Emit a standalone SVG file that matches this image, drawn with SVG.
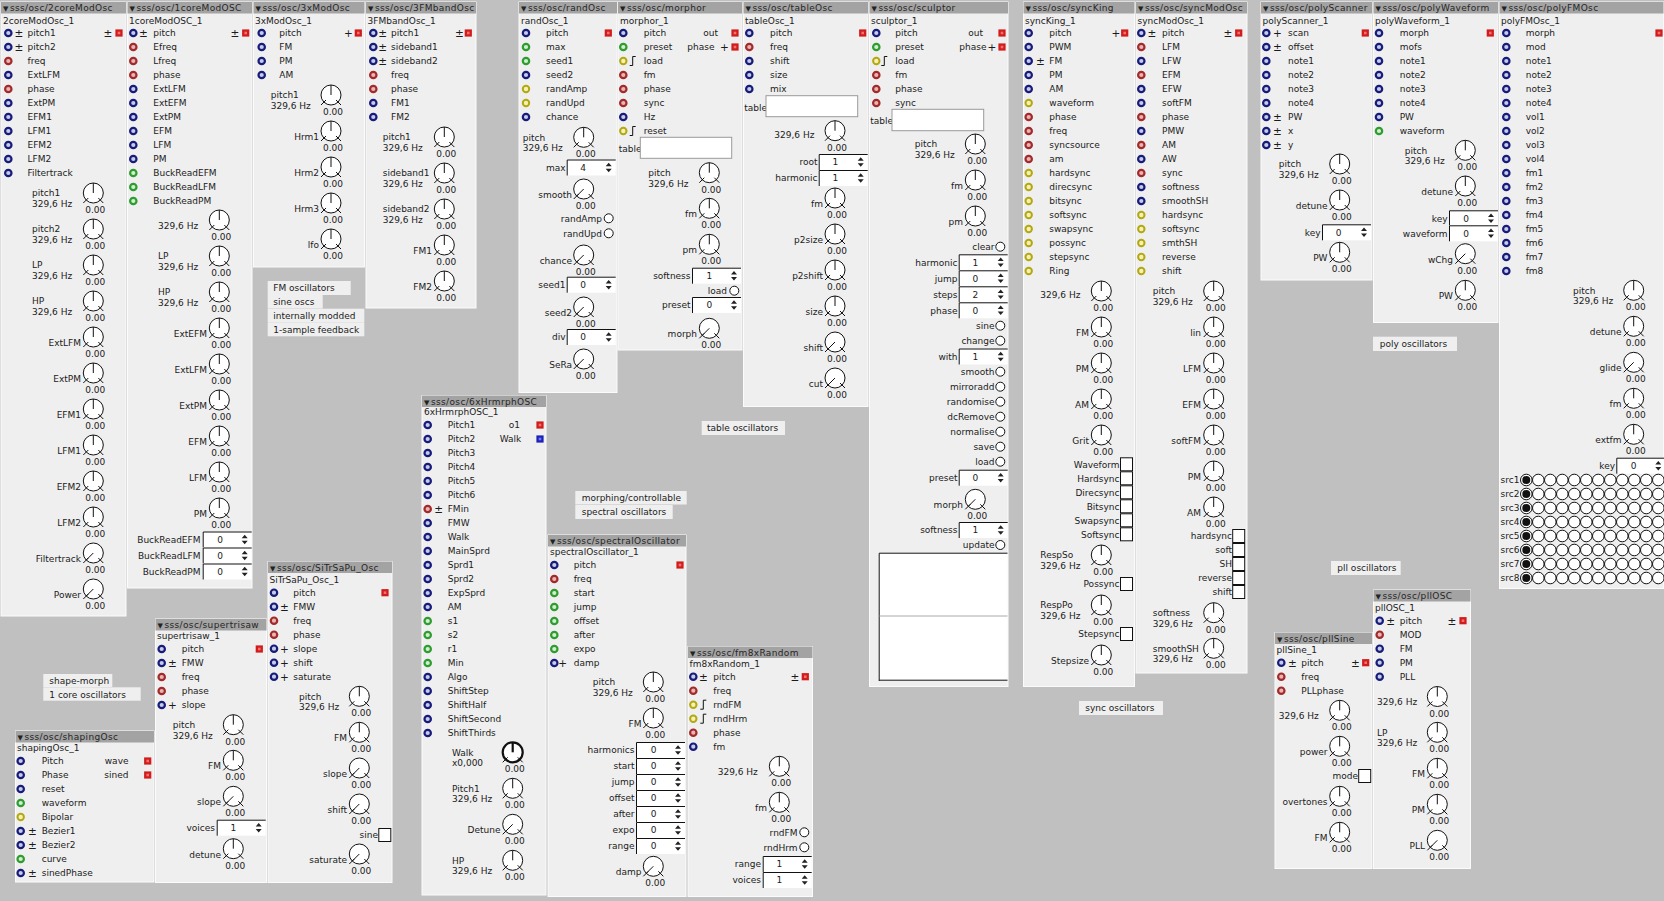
<svg xmlns="http://www.w3.org/2000/svg" xmlns:xlink="http://www.w3.org/1999/xlink" width="1664" height="901" viewBox="0 0 1664 901">
<defs>
<style>
text{font-family:"DejaVu Sans","Liberation Sans",sans-serif;font-size:9px;fill:#1b1b1b}
.r{text-anchor:end}.m{text-anchor:middle}
.t{font-size:9px;letter-spacing:.35px;fill:#262626}
.tri{font-size:7px;fill:#222}
.s{font-size:10.5px}
.pn{fill:#efefef;stroke:#fbfbfb;stroke-width:1}
.tb{fill:#a3a3a3}
.cm{fill:#efefef}
.ln{stroke:#111;fill:none;stroke-width:1}
</style>
<g id="pb"><circle r="3.2" fill="#c6cbe6" stroke="#171b7a" stroke-width="2.2"/></g>
<g id="pr"><circle r="3.2" fill="#e8b5b5" stroke="#a22a2a" stroke-width="2.2"/></g>
<g id="pg"><circle r="3.2" fill="#d2eed2" stroke="#2f9c2f" stroke-width="2.2"/></g>
<g id="py"><circle r="3.2" fill="#f4f1b4" stroke="#b3a812" stroke-width="2"/></g>
<g id="or"><rect x="-3.6" y="-3.6" width="7.2" height="7.2" fill="#d21c1c"/><rect x="-1.3" y="-1.3" width="2.6" height="2.6" fill="#f27070"/></g>
<g id="ob"><rect x="-3.6" y="-3.6" width="7.2" height="7.2" fill="#1c22b8"/><rect x="-1.3" y="-1.3" width="2.6" height="2.6" fill="#7078f0"/></g>
<g id="k"><circle r="10" fill="#fff" stroke="#111"/><path class="ln" d="M0,0V-10M-5,5L-10,10M5,5L10,10"/><text x="2" y="20" class="m">0.00</text></g>
<g id="kd"><circle r="10" fill="#fff" stroke="#111"/><path class="ln" d="M0,0L-7,7M-5,5L-10,10M5,5L10,10"/><text x="2" y="20" class="m">0.00</text></g>
<g id="kb"><circle r="10" fill="#fff" stroke="#111" stroke-width="2.2"/><path d="M0,0V-10" stroke="#111" stroke-width="2.2"/><path class="ln" d="M-5,5L-10,10M5,5L10,10"/><text x="2" y="20" class="m">0.00</text></g>
<g id="nb"><rect y="-8" width="49" height="16" fill="#fff"/><path class="ln" d="M0.5,8V-7.5H49"/><path d="M39,-1.2l3,-3.6l3,3.6zM39,1.2l3,3.6l3,-3.6z" fill="#222"/></g>
<g id="tg"><circle r="4.5" fill="#fff" stroke="#111"/></g>
<g id="cb"><rect x="-6" y="-6.5" width="12" height="13" fill="#fff" stroke="#111"/></g>
<g id="st"><path class="ln" d="M-3,4.5H0V-4.5H3"/></g>
<g id="mo"><circle r="5.8" fill="#fff" stroke="#111"/></g>
<g id="mf"><circle r="5.8" fill="#fff" stroke="#111"/><circle r="4" fill="#111"/></g>
</defs>
<rect width="1664" height="901" fill="#c0c0c0"/>
<g id="connectors"/>

<g id="n-2coreModOsc">
<rect class="pn" x="1" y="2" width="125" height="614"/><rect class="tb" x="1" y="2" width="125" height="11.5"/>
<text x="3" y="11" class="tri">▼</text><text x="10" y="11" class="t">sss/osc/2coreModOsc</text>
<text x="3" y="23.5">2coreModOsc_1</text>
<use href="#pb" x="8.3" y="33"/><text x="19" y="36.8" class="m s">±</text><text x="27.5" y="36.3">pitch1</text><text x="108" y="36.8" class="m s">±</text><use href="#or" x="119" y="33"/>
<use href="#pb" x="8.3" y="47"/><text x="19" y="50.8" class="m s">±</text><text x="27.5" y="50.3">pitch2</text>
<use href="#pr" x="8.3" y="61"/><text x="27.5" y="64.3">freq</text>
<use href="#pb" x="8.3" y="75"/><text x="27.5" y="78.3">ExtLFM</text>
<use href="#pr" x="8.3" y="89"/><text x="27.5" y="92.3">phase</text>
<use href="#pb" x="8.3" y="103"/><text x="27.5" y="106.3">ExtPM</text>
<use href="#pb" x="8.3" y="117"/><text x="27.5" y="120.3">EFM1</text>
<use href="#pb" x="8.3" y="131"/><text x="27.5" y="134.3">LFM1</text>
<use href="#pb" x="8.3" y="145"/><text x="27.5" y="148.3">EFM2</text>
<use href="#pb" x="8.3" y="159"/><text x="27.5" y="162.3">LFM2</text>
<use href="#pb" x="8.3" y="173"/><text x="27.5" y="176.3">Filtertrack</text>
<use href="#k" x="93.3" y="193"/><text x="32" y="196.3">pitch1</text><text x="32" y="207">329,6 Hz</text>
<use href="#k" x="93.3" y="229"/><text x="32" y="232.3">pitch2</text><text x="32" y="243">329,6 Hz</text>
<use href="#k" x="93.3" y="265"/><text x="32" y="268.3">LP</text><text x="32" y="279">329,6 Hz</text>
<use href="#k" x="93.3" y="301"/><text x="32" y="304.3">HP</text><text x="32" y="315">329,6 Hz</text>
<use href="#k" x="93.3" y="337"/><text x="81" y="346" class="r">ExtLFM</text>
<use href="#k" x="93.3" y="373"/><text x="81" y="382" class="r">ExtPM</text>
<use href="#k" x="93.3" y="409"/><text x="81" y="418" class="r">EFM1</text>
<use href="#k" x="93.3" y="445"/><text x="81" y="454" class="r">LFM1</text>
<use href="#k" x="93.3" y="481"/><text x="81" y="490" class="r">EFM2</text>
<use href="#k" x="93.3" y="517"/><text x="81" y="526" class="r">LFM2</text>
<use href="#kd" x="93.3" y="553"/><text x="81" y="562" class="r">Filtertrack</text>
<use href="#kd" x="93.3" y="589"/><text x="81" y="598" class="r">Power</text>
</g>

<g id="n-1coreModOSC">
<rect class="pn" x="127.5" y="2" width="124.5" height="586"/><rect class="tb" x="127.5" y="2" width="124.5" height="11.5"/>
<text x="129.5" y="11" class="tri">▼</text><text x="136.5" y="11" class="t">sss/osc/1coreModOSC</text>
<text x="129" y="23.5">1coreModOSC_1</text>
<use href="#pb" x="133.3" y="33"/><text x="143.3" y="36.8" class="m s">±</text><text x="153.3" y="36.3">pitch</text><text x="235" y="36.8" class="m s">±</text><use href="#or" x="245.7" y="33"/>
<use href="#pr" x="133.3" y="47"/><text x="153.3" y="50.3">Efreq</text>
<use href="#pr" x="133.3" y="61"/><text x="153.3" y="64.3">Lfreq</text>
<use href="#pr" x="133.3" y="75"/><text x="153.3" y="78.3">phase</text>
<use href="#pb" x="133.3" y="89"/><text x="153.3" y="92.3">ExtLFM</text>
<use href="#pb" x="133.3" y="103"/><text x="153.3" y="106.3">ExtEFM</text>
<use href="#pb" x="133.3" y="117"/><text x="153.3" y="120.3">ExtPM</text>
<use href="#pb" x="133.3" y="131"/><text x="153.3" y="134.3">EFM</text>
<use href="#pb" x="133.3" y="145"/><text x="153.3" y="148.3">LFM</text>
<use href="#pb" x="133.3" y="159"/><text x="153.3" y="162.3">PM</text>
<use href="#pg" x="133.3" y="173"/><text x="153.3" y="176.3">BuckReadEFM</text>
<use href="#pg" x="133.3" y="187"/><text x="153.3" y="190.3">BuckReadLFM</text>
<use href="#pg" x="133.3" y="201"/><text x="153.3" y="204.3">BuckReadPM</text>
<use href="#k" x="219.3" y="220"/><text x="158" y="229">329,6 Hz</text>
<use href="#k" x="219.3" y="256"/><text x="158" y="259.3">LP</text><text x="158" y="270">329,6 Hz</text>
<use href="#k" x="219.3" y="292"/><text x="158" y="295.3">HP</text><text x="158" y="306">329,6 Hz</text>
<use href="#k" x="219.3" y="328"/><text x="207" y="337" class="r">ExtEFM</text>
<use href="#k" x="219.3" y="364"/><text x="207" y="373" class="r">ExtLFM</text>
<use href="#k" x="219.3" y="400"/><text x="207" y="409" class="r">ExtPM</text>
<use href="#k" x="219.3" y="436"/><text x="207" y="445" class="r">EFM</text>
<use href="#k" x="219.3" y="472"/><text x="207" y="481" class="r">LFM</text>
<use href="#k" x="219.3" y="508"/><text x="207" y="517" class="r">PM</text>
<use href="#nb" x="202.7" y="539.5"/><text x="200.5" y="542.8" class="r">BuckReadEFM</text><text x="220" y="542.8" class="m">0</text>
<use href="#nb" x="202.7" y="555.5"/><text x="200.5" y="558.8" class="r">BuckReadLFM</text><text x="220" y="558.8" class="m">0</text>
<use href="#nb" x="202.7" y="571.5"/><text x="200.5" y="574.8" class="r">BuckReadPM</text><text x="220" y="574.8" class="m">0</text>
</g>

<g id="n-3xModOsc">
<rect class="pn" x="253.5" y="2" width="111" height="265"/><rect class="tb" x="253.5" y="2" width="111" height="11.5"/>
<text x="255.5" y="11" class="tri">▼</text><text x="262.5" y="11" class="t">sss/osc/3xModOsc</text>
<text x="255" y="23.5">3xModOsc_1</text>
<use href="#pb" x="261.7" y="33"/><text x="279.3" y="36.3">pitch</text><text x="348.3" y="36.8" class="m s">+</text><use href="#or" x="358.3" y="33"/>
<use href="#pb" x="261.7" y="47"/><text x="279.3" y="50.3">FM</text>
<use href="#pb" x="261.7" y="61"/><text x="279.3" y="64.3">PM</text>
<use href="#pb" x="261.7" y="75"/><text x="279.3" y="78.3">AM</text>
<use href="#k" x="331" y="95"/><text x="270.7" y="98.3">pitch1</text><text x="270.7" y="109">329,6 Hz</text>
<use href="#k" x="331" y="131"/><text x="319" y="140" class="r">Hrm1</text>
<use href="#k" x="331" y="167"/><text x="319" y="176" class="r">Hrm2</text>
<use href="#k" x="331" y="203"/><text x="319" y="212" class="r">Hrm3</text>
<use href="#k" x="331" y="239"/><text x="319" y="248" class="r">lfo</text>
</g>

<g id="n-3FMbandOsc">
<rect class="pn" x="366" y="2" width="110" height="306"/><rect class="tb" x="366" y="2" width="110" height="11.5"/>
<text x="368" y="11" class="tri">▼</text><text x="375" y="11" class="t">sss/osc/3FMbandOsc</text>
<text x="367.5" y="23.5">3FMbandOsc_1</text>
<use href="#pb" x="373.3" y="33"/><text x="382.7" y="36.8" class="m s">±</text><text x="391" y="36.3">pitch1</text><text x="459.3" y="36.8" class="m s">±</text><use href="#or" x="468.3" y="33"/>
<use href="#pb" x="373.3" y="47"/><text x="382.7" y="50.8" class="m s">±</text><text x="391" y="50.3">sideband1</text>
<use href="#pb" x="373.3" y="61"/><text x="382.7" y="64.8" class="m s">±</text><text x="391" y="64.3">sideband2</text>
<use href="#pr" x="373.3" y="75"/><text x="391" y="78.3">freq</text>
<use href="#pr" x="373.3" y="89"/><text x="391" y="92.3">phase</text>
<use href="#pb" x="373.3" y="103"/><text x="391" y="106.3">FM1</text>
<use href="#pb" x="373.3" y="117"/><text x="391" y="120.3">FM2</text>
<use href="#k" x="444.3" y="137"/><text x="382.7" y="140.3">pitch1</text><text x="382.7" y="151">329,6 Hz</text>
<use href="#k" x="444.3" y="173"/><text x="382.7" y="176.3">sideband1</text><text x="382.7" y="187">329,6 Hz</text>
<use href="#k" x="444.3" y="209"/><text x="382.7" y="212.3">sideband2</text><text x="382.7" y="223">329,6 Hz</text>
<use href="#k" x="444.3" y="245"/><text x="432" y="254" class="r">FM1</text>
<use href="#k" x="444.3" y="281"/><text x="432" y="290" class="r">FM2</text>
</g>

<g id="n-randOsc">
<rect class="pn" x="519" y="2" width="98" height="390.5"/><rect class="tb" x="519" y="2" width="98" height="11.5"/>
<text x="521" y="11" class="tri">▼</text><text x="528" y="11" class="t">sss/osc/randOsc</text>
<text x="521" y="23.5">randOsc_1</text>
<use href="#pb" x="526" y="33"/><text x="546" y="36.3">pitch</text><use href="#or" x="608.3" y="33"/>
<use href="#pg" x="526" y="47"/><text x="546" y="50.3">max</text>
<use href="#pg" x="526" y="61"/><text x="546" y="64.3">seed1</text>
<use href="#pb" x="526" y="75"/><text x="546" y="78.3">seed2</text>
<use href="#py" x="526" y="89"/><text x="546" y="92.3">randAmp</text>
<use href="#py" x="526" y="103"/><text x="546" y="106.3">randUpd</text>
<use href="#pb" x="526" y="117"/><text x="546" y="120.3">chance</text>
<use href="#k" x="583.7" y="137.3"/><text x="522.7" y="140.6">pitch</text><text x="522.7" y="151.3">329,6 Hz</text>
<use href="#nb" x="566.7" y="167.5"/><text x="565.5" y="170.8" class="r">max</text><text x="583" y="170.8" class="m">4</text>
<use href="#kd" x="583.7" y="189"/><text x="572" y="198" class="r">smooth</text>
<use href="#tg" x="608.7" y="218.3"/><text x="602" y="221.6" class="r">randAmp</text>
<use href="#tg" x="608.7" y="233.3"/><text x="602" y="236.6" class="r">randUpd</text>
<use href="#kd" x="583.7" y="255"/><text x="572" y="264" class="r">chance</text>
<use href="#nb" x="566.7" y="284.7"/><text x="565.5" y="288" class="r">seed1</text><text x="583" y="288" class="m">0</text>
<use href="#kd" x="583.7" y="307"/><text x="572" y="316" class="r">seed2</text>
<use href="#nb" x="566.7" y="337"/><text x="565.5" y="340.3" class="r">div</text><text x="583" y="340.3" class="m">0</text>
<use href="#kd" x="583.7" y="359"/><text x="572" y="368" class="r">SeRa</text>
</g>

<g id="n-morphor">
<rect class="pn" x="618" y="2" width="124" height="348"/><rect class="tb" x="618" y="2" width="124" height="11.5"/>
<text x="620" y="11" class="tri">▼</text><text x="627" y="11" class="t">sss/osc/morphor</text>
<text x="620" y="23.5">morphor_1</text>
<use href="#pb" x="623.3" y="33"/><text x="643.7" y="36.3">pitch</text><text x="718" y="36.3" class="r">out</text><use href="#or" x="735" y="33"/>
<use href="#pg" x="623.3" y="47"/><text x="643.7" y="50.3">preset</text><text x="714.5" y="50.3" class="r">phase</text><text x="724.3" y="50.8" class="m s">+</text><use href="#or" x="735" y="47"/>
<use href="#py" x="623.3" y="61"/><use href="#st" x="632.7" y="61"/><text x="643.7" y="64.3">load</text>
<use href="#pr" x="623.3" y="75"/><text x="643.7" y="78.3">fm</text>
<use href="#pr" x="623.3" y="89"/><text x="643.7" y="92.3">phase</text>
<use href="#pr" x="623.3" y="103"/><text x="643.7" y="106.3">sync</text>
<use href="#pb" x="623.3" y="117"/><text x="643.7" y="120.3">Hz</text>
<use href="#py" x="623.3" y="131"/><use href="#st" x="632.7" y="131"/><text x="643.7" y="134.3">reset</text>
<text x="618.7" y="152.3">table</text><rect x="640.3" y="137.3" width="91.4" height="21" fill="#fff" stroke="#9a9a9a"/>
<use href="#k" x="709.3" y="172.7"/><text x="648.3" y="176">pitch</text><text x="648.3" y="186.7">329,6 Hz</text>
<use href="#k" x="709.3" y="208.3"/><text x="697" y="217.3" class="r">fm</text>
<use href="#k" x="709.3" y="244.3"/><text x="697" y="253.3" class="r">pm</text>
<use href="#nb" x="692" y="275.7"/><text x="690.5" y="279" class="r">softness</text><text x="709.3" y="279" class="m">1</text>
<use href="#tg" x="734.3" y="290.7"/><text x="727" y="294" class="r">load</text>
<use href="#nb" x="692" y="305"/><text x="690.5" y="308.3" class="r">preset</text><text x="709.3" y="308.3" class="m">0</text>
<use href="#kd" x="709.3" y="328.3"/><text x="697" y="337.3" class="r">morph</text>
</g>

<g id="n-tableOsc">
<rect class="pn" x="743.5" y="2" width="124.5" height="404.5"/><rect class="tb" x="743.5" y="2" width="124.5" height="11.5"/>
<text x="745.5" y="11" class="tri">▼</text><text x="752.5" y="11" class="t">sss/osc/tableOsc</text>
<text x="745" y="23.5">tableOsc_1</text>
<use href="#pb" x="749.3" y="33"/><text x="770" y="36.3">pitch</text><use href="#or" x="862.7" y="33"/>
<use href="#pr" x="749.3" y="47"/><text x="770" y="50.3">freq</text>
<use href="#pb" x="749.3" y="61"/><text x="770" y="64.3">shift</text>
<use href="#pb" x="749.3" y="75"/><text x="770" y="78.3">size</text>
<use href="#pb" x="749.3" y="89"/><text x="770" y="92.3">mix</text>
<text x="744.3" y="110.5">table</text><rect x="766" y="95.7" width="91.7" height="21" fill="#fff" stroke="#9a9a9a"/>
<use href="#k" x="835" y="130.7"/><text x="774.3" y="138.3">329,6 Hz</text>
<use href="#nb" x="818.7" y="162"/><text x="817.5" y="165.3" class="r">root</text><text x="835.3" y="165.3" class="m">1</text>
<use href="#nb" x="818.7" y="178"/><text x="817.5" y="181.3" class="r">harmonic</text><text x="835.3" y="181.3" class="m">1</text>
<use href="#k" x="835" y="198"/><text x="823" y="207" class="r">fm</text>
<use href="#k" x="835" y="234"/><text x="823" y="243" class="r">p2size</text>
<use href="#k" x="835" y="270"/><text x="823" y="279" class="r">p2shift</text>
<use href="#k" x="835" y="306"/><text x="823" y="315" class="r">size</text>
<use href="#kd" x="835" y="342"/><text x="823" y="351" class="r">shift</text>
<use href="#kd" x="835" y="378"/><text x="823" y="387" class="r">cut</text>
</g>

<g id="n-sculptor">
<rect class="pn" x="869.5" y="2" width="138.5" height="684.5"/><rect class="tb" x="869.5" y="2" width="138.5" height="11.5"/>
<text x="871.5" y="11" class="tri">▼</text><text x="878.5" y="11" class="t">sss/osc/sculptor</text>
<text x="871" y="23.5">sculptor_1</text>
<use href="#pb" x="876.3" y="33"/><text x="895.3" y="36.3">pitch</text><text x="983" y="36.3" class="r">out</text><use href="#or" x="1002" y="33"/>
<use href="#pg" x="876.3" y="47"/><text x="895.3" y="50.3">preset</text><text x="986.5" y="50.3" class="r">phase</text><text x="992" y="50.8" class="m s">+</text><use href="#or" x="1002" y="47"/>
<use href="#py" x="876.3" y="61"/><use href="#st" x="884.3" y="61"/><text x="895.3" y="64.3">load</text>
<use href="#pr" x="876.3" y="75"/><text x="895.3" y="78.3">fm</text>
<use href="#pr" x="876.3" y="89"/><text x="895.3" y="92.3">phase</text>
<use href="#pr" x="876.3" y="103"/><text x="895.3" y="106.3">sync</text>
<text x="870.3" y="124">table</text><rect x="892" y="109.3" width="91.7" height="21.4" fill="#fff" stroke="#9a9a9a"/>
<use href="#k" x="975.3" y="144"/><text x="914.7" y="147.3">pitch</text><text x="914.7" y="158">329,6 Hz</text>
<use href="#k" x="975.3" y="180"/><text x="963" y="189" class="r">fm</text>
<use href="#k" x="975.3" y="216"/><text x="963" y="225" class="r">pm</text>
<use href="#tg" x="1000.3" y="246.7"/><text x="994.5" y="250" class="r">clear</text>
<use href="#nb" x="958.7" y="262.3"/><text x="957.5" y="265.6" class="r">harmonic</text><text x="975.3" y="265.6" class="m">1</text>
<use href="#nb" x="958.7" y="278.3"/><text x="957.5" y="281.6" class="r">jump</text><text x="975.3" y="281.6" class="m">0</text>
<use href="#nb" x="958.7" y="294.3"/><text x="957.5" y="297.6" class="r">steps</text><text x="975.3" y="297.6" class="m">2</text>
<use href="#nb" x="958.7" y="310.3"/><text x="957.5" y="313.6" class="r">phase</text><text x="975.3" y="313.6" class="m">0</text>
<use href="#tg" x="1000.3" y="325.7"/><text x="994.5" y="329" class="r">sine</text>
<use href="#tg" x="1000.3" y="340.7"/><text x="994.5" y="344" class="r">change</text>
<use href="#nb" x="958.7" y="356.5"/><text x="957.5" y="359.8" class="r">with</text><text x="975.3" y="359.8" class="m">1</text>
<use href="#tg" x="1000.3" y="371.7"/><text x="994.5" y="375" class="r">smooth</text>
<use href="#tg" x="1000.3" y="386.7"/><text x="994.5" y="390" class="r">mirroradd</text>
<use href="#tg" x="1000.3" y="401.7"/><text x="994.5" y="405" class="r">randomise</text>
<use href="#tg" x="1000.3" y="416.7"/><text x="994.5" y="420" class="r">dcRemove</text>
<use href="#tg" x="1000.3" y="431.7"/><text x="994.5" y="435" class="r">normalise</text>
<use href="#tg" x="1000.3" y="446.7"/><text x="994.5" y="450" class="r">save</text>
<use href="#tg" x="1000.3" y="461.7"/><text x="994.5" y="465" class="r">load</text>
<use href="#nb" x="958.7" y="477.7"/><text x="957.5" y="481" class="r">preset</text><text x="975.3" y="481" class="m">0</text>
<use href="#kd" x="975.3" y="499.3"/><text x="963" y="508.3" class="r">morph</text>
<use href="#nb" x="958.7" y="530"/><text x="957.5" y="533.3" class="r">softness</text><text x="975.3" y="533.3" class="m">1</text>
<use href="#tg" x="1000.3" y="545"/><text x="994.5" y="548.3" class="r">update</text>
<rect x="878.7" y="552.7" width="129" height="128" fill="#fff"/>
<path d="M879.2,681V553.2H1007.5" class="ln" stroke-width="1.2"/>
<path d="M879.2,680.2H1007.5" class="ln" stroke-width="1.2"/>
<path d="M879.5,616H1007.5" stroke="#aaa" stroke-width="1" fill="none"/>
</g>

<g id="n-syncKing">
<rect class="pn" x="1023.5" y="2" width="111" height="684.5"/><rect class="tb" x="1023.5" y="2" width="111" height="11.5"/>
<text x="1025.5" y="11" class="tri">▼</text><text x="1032.5" y="11" class="t">sss/osc/syncKing</text>
<text x="1025" y="23.5">syncKing_1</text>
<use href="#pb" x="1028.7" y="33"/><text x="1049.3" y="36.3">pitch</text><text x="1116" y="36.8" class="m s">+</text><use href="#or" x="1124.7" y="33"/>
<use href="#pb" x="1028.7" y="47"/><text x="1049.3" y="50.3">PWM</text>
<use href="#pb" x="1028.7" y="61"/><text x="1040.3" y="64.8" class="m s">±</text><text x="1049.3" y="64.3">FM</text>
<use href="#pb" x="1028.7" y="75"/><text x="1049.3" y="78.3">PM</text>
<use href="#pb" x="1028.7" y="89"/><text x="1049.3" y="92.3">AM</text>
<use href="#py" x="1028.7" y="103"/><text x="1049.3" y="106.3">waveform</text>
<use href="#pr" x="1028.7" y="117"/><text x="1049.3" y="120.3">phase</text>
<use href="#pr" x="1028.7" y="131"/><text x="1049.3" y="134.3">freq</text>
<use href="#pr" x="1028.7" y="145"/><text x="1049.3" y="148.3">syncsource</text>
<use href="#pr" x="1028.7" y="159"/><text x="1049.3" y="162.3">am</text>
<use href="#py" x="1028.7" y="173"/><text x="1049.3" y="176.3">hardsync</text>
<use href="#py" x="1028.7" y="187"/><text x="1049.3" y="190.3">direcsync</text>
<use href="#py" x="1028.7" y="201"/><text x="1049.3" y="204.3">bitsync</text>
<use href="#py" x="1028.7" y="215"/><text x="1049.3" y="218.3">softsync</text>
<use href="#py" x="1028.7" y="229"/><text x="1049.3" y="232.3">swapsync</text>
<use href="#py" x="1028.7" y="243"/><text x="1049.3" y="246.3">possync</text>
<use href="#py" x="1028.7" y="257"/><text x="1049.3" y="260.3">stepsync</text>
<use href="#py" x="1028.7" y="271"/><text x="1049.3" y="274.3">Ring</text>
<use href="#k" x="1101.3" y="291"/><text x="1040.3" y="298.3">329,6 Hz</text>
<use href="#k" x="1101.3" y="327"/><text x="1089" y="336" class="r">FM</text>
<use href="#k" x="1101.3" y="363"/><text x="1089" y="372" class="r">PM</text>
<use href="#k" x="1101.3" y="399"/><text x="1089" y="408" class="r">AM</text>
<use href="#k" x="1101.3" y="435"/><text x="1089" y="444" class="r">Grit</text>
<use href="#cb" x="1126.5" y="464.3"/><text x="1119.5" y="467.6" class="r">Waveform</text>
<use href="#cb" x="1126.5" y="478.3"/><text x="1119.5" y="481.6" class="r">Hardsync</text>
<use href="#cb" x="1126.5" y="492.3"/><text x="1119.5" y="495.6" class="r">Direcsync</text>
<use href="#cb" x="1126.5" y="506.3"/><text x="1119.5" y="509.6" class="r">Bitsync</text>
<use href="#cb" x="1126.5" y="520.3"/><text x="1119.5" y="523.6" class="r">Swapsync</text>
<use href="#cb" x="1126.5" y="534.3"/><text x="1119.5" y="537.6" class="r">Softsync</text>
<use href="#k" x="1101.3" y="555"/><text x="1040.3" y="558.3">RespSo</text><text x="1040.3" y="569">329,6 Hz</text>
<use href="#cb" x="1126.5" y="584"/><text x="1119.5" y="587.3" class="r">Possync</text>
<use href="#k" x="1101.3" y="605"/><text x="1040.3" y="608.3">RespPo</text><text x="1040.3" y="619">329,6 Hz</text>
<use href="#cb" x="1126.5" y="634"/><text x="1119.5" y="637.3" class="r">Stepsync</text>
<use href="#k" x="1101.3" y="655"/><text x="1089" y="664" class="r">Stepsize</text>
</g>

<g id="n-syncModOsc">
<rect class="pn" x="1136" y="2" width="111" height="671"/><rect class="tb" x="1136" y="2" width="111" height="11.5"/>
<text x="1138" y="11" class="tri">▼</text><text x="1145" y="11" class="t">sss/osc/syncModOsc</text>
<text x="1137.5" y="23.5">syncModOsc_1</text>
<use href="#pb" x="1141.3" y="33"/><text x="1152" y="36.8" class="m s">±</text><text x="1162" y="36.3">pitch</text><text x="1228" y="36.8" class="m s">±</text><use href="#or" x="1238.7" y="33"/>
<use href="#pr" x="1141.3" y="47"/><text x="1162" y="50.3">LFM</text>
<use href="#pb" x="1141.3" y="61"/><text x="1162" y="64.3">LFW</text>
<use href="#pr" x="1141.3" y="75"/><text x="1162" y="78.3">EFM</text>
<use href="#pb" x="1141.3" y="89"/><text x="1162" y="92.3">EFW</text>
<use href="#pb" x="1141.3" y="103"/><text x="1162" y="106.3">softFM</text>
<use href="#pr" x="1141.3" y="117"/><text x="1162" y="120.3">phase</text>
<use href="#pb" x="1141.3" y="131"/><text x="1162" y="134.3">PMW</text>
<use href="#pr" x="1141.3" y="145"/><text x="1162" y="148.3">AM</text>
<use href="#pb" x="1141.3" y="159"/><text x="1162" y="162.3">AW</text>
<use href="#pr" x="1141.3" y="173"/><text x="1162" y="176.3">sync</text>
<use href="#pb" x="1141.3" y="187"/><text x="1162" y="190.3">softness</text>
<use href="#pb" x="1141.3" y="201"/><text x="1162" y="204.3">smoothSH</text>
<use href="#py" x="1141.3" y="215"/><text x="1162" y="218.3">hardsync</text>
<use href="#py" x="1141.3" y="229"/><text x="1162" y="232.3">softsync</text>
<use href="#py" x="1141.3" y="243"/><text x="1162" y="246.3">smthSH</text>
<use href="#py" x="1141.3" y="257"/><text x="1162" y="260.3">reverse</text>
<use href="#py" x="1141.3" y="271"/><text x="1162" y="274.3">shift</text>
<use href="#k" x="1213.7" y="291"/><text x="1152.7" y="294.3">pitch</text><text x="1152.7" y="305">329,6 Hz</text>
<use href="#k" x="1213.7" y="327"/><text x="1201" y="336" class="r">lin</text>
<use href="#k" x="1213.7" y="363"/><text x="1201" y="372" class="r">LFM</text>
<use href="#k" x="1213.7" y="399"/><text x="1201" y="408" class="r">EFM</text>
<use href="#k" x="1213.7" y="435"/><text x="1201" y="444" class="r">softFM</text>
<use href="#k" x="1213.7" y="471"/><text x="1201" y="480" class="r">PM</text>
<use href="#k" x="1213.7" y="507"/><text x="1201" y="516" class="r">AM</text>
<use href="#cb" x="1238.7" y="536"/><text x="1232" y="539.3" class="r">hardsync</text>
<use href="#cb" x="1238.7" y="550"/><text x="1232" y="553.3" class="r">soft</text>
<use href="#cb" x="1238.7" y="564"/><text x="1232" y="567.3" class="r">SH</text>
<use href="#cb" x="1238.7" y="578"/><text x="1232" y="581.3" class="r">reverse</text>
<use href="#cb" x="1238.7" y="592"/><text x="1232" y="595.3" class="r">shift</text>
<use href="#k" x="1213.7" y="612.7"/><text x="1152.7" y="616">softness</text><text x="1152.7" y="626.7">329,6 Hz</text>
<use href="#k" x="1213.7" y="648.3"/><text x="1152.7" y="651.6">smoothSH</text><text x="1152.7" y="662.3">329,6 Hz</text>
</g>

<g id="n-polyScanner">
<rect class="pn" x="1261" y="2" width="111" height="278"/><rect class="tb" x="1261" y="2" width="111" height="11.5"/>
<text x="1263" y="11" class="tri">▼</text><text x="1270" y="11" class="t">sss/osc/polyScanner</text>
<text x="1262.5" y="23.5">polyScanner_1</text>
<use href="#pb" x="1266.3" y="33"/><text x="1277.3" y="36.8" class="m s">+</text><text x="1288" y="36.3">scan</text><use href="#or" x="1365.3" y="33"/>
<use href="#pb" x="1266.3" y="47"/><text x="1277.3" y="50.8" class="m s">±</text><text x="1288" y="50.3">offset</text>
<use href="#pb" x="1266.3" y="61"/><text x="1288" y="64.3">note1</text>
<use href="#pb" x="1266.3" y="75"/><text x="1288" y="78.3">note2</text>
<use href="#pb" x="1266.3" y="89"/><text x="1288" y="92.3">note3</text>
<use href="#pb" x="1266.3" y="103"/><text x="1288" y="106.3">note4</text>
<use href="#pb" x="1266.3" y="117"/><text x="1277.3" y="120.8" class="m s">±</text><text x="1288" y="120.3">PW</text>
<use href="#pb" x="1266.3" y="131"/><text x="1277.3" y="134.8" class="m s">±</text><text x="1288" y="134.3">x</text>
<use href="#pb" x="1266.3" y="145"/><text x="1277.3" y="148.8" class="m s">±</text><text x="1288" y="148.3">y</text>
<use href="#k" x="1339.7" y="164"/><text x="1278.7" y="167.3">pitch</text><text x="1278.7" y="178">329,6 Hz</text>
<use href="#k" x="1339.7" y="200"/><text x="1327.5" y="209" class="r">detune</text>
<use href="#nb" x="1322" y="232.3"/><text x="1320.5" y="235.6" class="r">key</text><text x="1338.5" y="235.6" class="m">0</text>
<use href="#k" x="1339.7" y="252.3"/><text x="1327.5" y="261.3" class="r">PW</text>
</g>

<g id="n-polyWaveform">
<rect class="pn" x="1373.5" y="2" width="124.5" height="320.5"/><rect class="tb" x="1373.5" y="2" width="124.5" height="11.5"/>
<text x="1375.5" y="11" class="tri">▼</text><text x="1382.5" y="11" class="t">sss/osc/polyWaveform</text>
<text x="1375" y="23.5">polyWaveform_1</text>
<use href="#pb" x="1379" y="33"/><text x="1399.7" y="36.3">morph</text><use href="#or" x="1490.3" y="33"/>
<use href="#pb" x="1379" y="47"/><text x="1399.7" y="50.3">mofs</text>
<use href="#pb" x="1379" y="61"/><text x="1399.7" y="64.3">note1</text>
<use href="#pb" x="1379" y="75"/><text x="1399.7" y="78.3">note2</text>
<use href="#pb" x="1379" y="89"/><text x="1399.7" y="92.3">note3</text>
<use href="#pb" x="1379" y="103"/><text x="1399.7" y="106.3">note4</text>
<use href="#pb" x="1379" y="117"/><text x="1399.7" y="120.3">PW</text>
<use href="#pg" x="1379" y="131"/><text x="1399.7" y="134.3">waveform</text>
<use href="#k" x="1465.3" y="150.3"/><text x="1404.7" y="153.6">pitch</text><text x="1404.7" y="164.3">329,6 Hz</text>
<use href="#k" x="1465.3" y="186"/><text x="1453" y="195" class="r">detune</text>
<use href="#nb" x="1449" y="218.3"/><text x="1447.5" y="221.6" class="r">key</text><text x="1466" y="221.6" class="m">0</text>
<use href="#nb" x="1449" y="233.3"/><text x="1447.5" y="236.6" class="r">waveform</text><text x="1466" y="236.6" class="m">0</text>
<use href="#kd" x="1465.3" y="253.7"/><text x="1453" y="262.7" class="r">wChg</text>
<use href="#k" x="1465.3" y="290.3"/><text x="1453" y="299.3" class="r">PW</text>
</g>

<g id="n-polyFMOsc">
<rect class="pn" x="1499.5" y="2" width="164" height="586.5"/><rect class="tb" x="1499.5" y="2" width="164" height="11.5"/>
<text x="1501.5" y="11" class="tri">▼</text><text x="1508.5" y="11" class="t">sss/osc/polyFMOsc</text>
<text x="1501" y="23.5">polyFMOsc_1</text>
<use href="#pb" x="1506.3" y="33"/><text x="1525.7" y="36.3">morph</text><use href="#or" x="1659" y="33"/>
<use href="#pb" x="1506.3" y="47"/><text x="1525.7" y="50.3">mod</text>
<use href="#pb" x="1506.3" y="61"/><text x="1525.7" y="64.3">note1</text>
<use href="#pb" x="1506.3" y="75"/><text x="1525.7" y="78.3">note2</text>
<use href="#pb" x="1506.3" y="89"/><text x="1525.7" y="92.3">note3</text>
<use href="#pb" x="1506.3" y="103"/><text x="1525.7" y="106.3">note4</text>
<use href="#pb" x="1506.3" y="117"/><text x="1525.7" y="120.3">vol1</text>
<use href="#pb" x="1506.3" y="131"/><text x="1525.7" y="134.3">vol2</text>
<use href="#pb" x="1506.3" y="145"/><text x="1525.7" y="148.3">vol3</text>
<use href="#pb" x="1506.3" y="159"/><text x="1525.7" y="162.3">vol4</text>
<use href="#pb" x="1506.3" y="173"/><text x="1525.7" y="176.3">fm1</text>
<use href="#pb" x="1506.3" y="187"/><text x="1525.7" y="190.3">fm2</text>
<use href="#pb" x="1506.3" y="201"/><text x="1525.7" y="204.3">fm3</text>
<use href="#pb" x="1506.3" y="215"/><text x="1525.7" y="218.3">fm4</text>
<use href="#pb" x="1506.3" y="229"/><text x="1525.7" y="232.3">fm5</text>
<use href="#pb" x="1506.3" y="243"/><text x="1525.7" y="246.3">fm6</text>
<use href="#pb" x="1506.3" y="257"/><text x="1525.7" y="260.3">fm7</text>
<use href="#pb" x="1506.3" y="271"/><text x="1525.7" y="274.3">fm8</text>
<use href="#k" x="1633.7" y="290.3"/><text x="1573" y="293.6">pitch</text><text x="1573" y="304.3">329,6 Hz</text>
<use href="#k" x="1633.7" y="326.3"/><text x="1621.5" y="335.3" class="r">detune</text>
<use href="#kd" x="1633.7" y="362.3"/><text x="1621.5" y="371.3" class="r">glide</text>
<use href="#k" x="1633.7" y="398.3"/><text x="1621.5" y="407.3" class="r">fm</text>
<use href="#k" x="1633.7" y="434.3"/><text x="1621.5" y="443.3" class="r">extfm</text>
<use href="#nb" x="1616.3" y="465.7"/><text x="1615" y="469" class="r">key</text><text x="1633.7" y="469" class="m">0</text>
<g id="matrix">
<text x="1500.5" y="483.3">src1</text><text x="1500.5" y="497.3">src2</text><text x="1500.5" y="511.3">src3</text><text x="1500.5" y="525.3">src4</text><text x="1500.5" y="539.3">src5</text><text x="1500.5" y="553.3">src6</text><text x="1500.5" y="567.3">src7</text><text x="1500.5" y="581.3">src8</text>
<g id="mrow"><use href="#mf" x="1526.3" y="480"/><use href="#mo" x="1538.3" y="480"/><use href="#mo" x="1550.3" y="480"/><use href="#mo" x="1562.3" y="480"/><use href="#mo" x="1574.3" y="480"/><use href="#mo" x="1586.3" y="480"/><use href="#mo" x="1598.3" y="480"/><use href="#mo" x="1610.3" y="480"/><use href="#mo" x="1622.3" y="480"/><use href="#mo" x="1634.3" y="480"/><use href="#mo" x="1646.3" y="480"/><use href="#mo" x="1658.3" y="480"/></g>
<use href="#mrow" y="14"/><use href="#mrow" y="28"/><use href="#mrow" y="42"/><use href="#mrow" y="56"/><use href="#mrow" y="70"/><use href="#mrow" y="84"/><use href="#mrow" y="98"/>
</g>
</g>

<g id="n-6xHrmrphOSC">
<rect class="pn" x="422" y="395.5" width="124" height="499.5"/><rect class="tb" x="422" y="395.5" width="124" height="11.5"/>
<text x="424" y="404.5" class="tri">▼</text><text x="431" y="404.5" class="t">sss/osc/6xHrmrphOSC</text>
<text x="424" y="415">6xHrmrphOSC_1</text>
<use href="#pb" x="427.7" y="425"/><text x="447.7" y="428.3">Pitch1</text><text x="520" y="428.3" class="r">o1</text><use href="#or" x="540" y="425"/>
<use href="#pb" x="427.7" y="439"/><text x="447.7" y="442.3">Pitch2</text><text x="521.3" y="442.3" class="r">Walk</text><use href="#ob" x="540" y="439"/>
<use href="#pb" x="427.7" y="453"/><text x="447.7" y="456.3">Pitch3</text>
<use href="#pb" x="427.7" y="467"/><text x="447.7" y="470.3">Pitch4</text>
<use href="#pb" x="427.7" y="481"/><text x="447.7" y="484.3">Pitch5</text>
<use href="#pb" x="427.7" y="495"/><text x="447.7" y="498.3">Pitch6</text>
<use href="#pr" x="427.7" y="509"/><text x="438.7" y="512.8" class="m s">±</text><text x="447.7" y="512.3">FMin</text>
<use href="#pb" x="427.7" y="523"/><text x="447.7" y="526.3">FMW</text>
<use href="#pb" x="427.7" y="537"/><text x="447.7" y="540.3">Walk</text>
<use href="#pb" x="427.7" y="551"/><text x="447.7" y="554.3">MainSprd</text>
<use href="#pb" x="427.7" y="565"/><text x="447.7" y="568.3">Sprd1</text>
<use href="#pb" x="427.7" y="579"/><text x="447.7" y="582.3">Sprd2</text>
<use href="#pb" x="427.7" y="593"/><text x="447.7" y="596.3">ExpSprd</text>
<use href="#pb" x="427.7" y="607"/><text x="447.7" y="610.3">AM</text>
<use href="#pg" x="427.7" y="621"/><text x="447.7" y="624.3">s1</text>
<use href="#pg" x="427.7" y="635"/><text x="447.7" y="638.3">s2</text>
<use href="#pg" x="427.7" y="649"/><text x="447.7" y="652.3">r1</text>
<use href="#pg" x="427.7" y="663"/><text x="447.7" y="666.3">Min</text>
<use href="#pb" x="427.7" y="677"/><text x="447.7" y="680.3">Algo</text>
<use href="#pb" x="427.7" y="691"/><text x="447.7" y="694.3">ShiftStep</text>
<use href="#pb" x="427.7" y="705"/><text x="447.7" y="708.3">ShiftHalf</text>
<use href="#pb" x="427.7" y="719"/><text x="447.7" y="722.3">ShiftSecond</text>
<use href="#pb" x="427.7" y="733"/><text x="447.7" y="736.3">ShiftThirds</text>
<use href="#kb" x="512.7" y="752.3"/><text x="452" y="755.6">Walk</text><text x="452" y="766.3">x0,000</text>
<use href="#k" x="512.7" y="788.3"/><text x="452" y="791.6">Pitch1</text><text x="452" y="802.3">329,6 Hz</text>
<use href="#kd" x="512.7" y="824.3"/><text x="500.5" y="833.3" class="r">Detune</text>
<use href="#k" x="512.7" y="860.3"/><text x="452" y="863.6">HP</text><text x="452" y="874.3">329,6 Hz</text>
</g>

<g id="n-spectralOscillator">
<rect class="pn" x="548" y="535" width="138" height="361.5"/><rect class="tb" x="548" y="535" width="138" height="11.5"/>
<text x="550" y="544" class="tri">▼</text><text x="557" y="544" class="t">sss/osc/spectralOscillator</text>
<text x="550" y="555">spectralOscillator_1</text>
<use href="#pb" x="554.3" y="565"/><text x="573.7" y="568.3">pitch</text><use href="#or" x="680" y="565"/>
<use href="#pr" x="554.3" y="579"/><text x="573.7" y="582.3">freq</text>
<use href="#pg" x="554.3" y="593"/><text x="573.7" y="596.3">start</text>
<use href="#pg" x="554.3" y="607"/><text x="573.7" y="610.3">jump</text>
<use href="#pg" x="554.3" y="621"/><text x="573.7" y="624.3">offset</text>
<use href="#pg" x="554.3" y="635"/><text x="573.7" y="638.3">after</text>
<use href="#pg" x="554.3" y="649"/><text x="573.7" y="652.3">expo</text>
<use href="#pb" x="554.3" y="663"/><text x="562.7" y="666.8" class="m s">+</text><text x="573.7" y="666.3">damp</text>
<use href="#k" x="653.3" y="682"/><text x="592.7" y="685.3">pitch</text><text x="592.7" y="696">329,6 Hz</text>
<use href="#k" x="653.3" y="718"/><text x="641.5" y="727" class="r">FM</text>
<use href="#nb" x="636" y="750"/><text x="634.5" y="753.3" class="r">harmonics</text><text x="653.5" y="753.3" class="m">0</text>
<use href="#nb" x="636" y="766"/><text x="634.5" y="769.3" class="r">start</text><text x="653.5" y="769.3" class="m">0</text>
<use href="#nb" x="636" y="782"/><text x="634.5" y="785.3" class="r">jump</text><text x="653.5" y="785.3" class="m">0</text>
<use href="#nb" x="636" y="798"/><text x="634.5" y="801.3" class="r">offset</text><text x="653.5" y="801.3" class="m">0</text>
<use href="#nb" x="636" y="814"/><text x="634.5" y="817.3" class="r">after</text><text x="653.5" y="817.3" class="m">0</text>
<use href="#nb" x="636" y="830"/><text x="634.5" y="833.3" class="r">expo</text><text x="653.5" y="833.3" class="m">0</text>
<use href="#nb" x="636" y="846"/><text x="634.5" y="849.3" class="r">range</text><text x="653.5" y="849.3" class="m">0</text>
<use href="#kd" x="653.3" y="866.3"/><text x="641.5" y="875.3" class="r">damp</text>
</g>

<g id="n-fm8xRandom">
<rect class="pn" x="688" y="646.5" width="124.5" height="250"/><rect class="tb" x="688" y="646.5" width="124.5" height="11.5"/>
<text x="690" y="655.5" class="tri">▼</text><text x="697" y="655.5" class="t">sss/osc/fm8xRandom</text>
<text x="689.5" y="666.6">fm8xRandom_1</text>
<use href="#pb" x="693.3" y="676.7"/><text x="703.3" y="680.5" class="m s">±</text><text x="713.3" y="680">pitch</text><text x="795" y="680.5" class="m s">±</text><use href="#or" x="805.3" y="676.7"/>
<use href="#pr" x="693.3" y="690.7"/><text x="713.3" y="694">freq</text>
<use href="#py" x="693.3" y="704.7"/><use href="#st" x="703.3" y="704.7"/><text x="713.3" y="708">rndFM</text>
<use href="#py" x="693.3" y="718.7"/><use href="#st" x="703.3" y="718.7"/><text x="713.3" y="722">rndHrm</text>
<use href="#pr" x="693.3" y="732.7"/><text x="713.3" y="736">phase</text>
<use href="#pb" x="693.3" y="746.7"/><text x="713.3" y="750">fm</text>
<use href="#k" x="779.3" y="766.3"/><text x="717.7" y="775">329,6 Hz</text>
<use href="#k" x="779.3" y="802.3"/><text x="767" y="811.3" class="r">fm</text>
<use href="#tg" x="804.3" y="832.3"/><text x="797.5" y="835.6" class="r">rndFM</text>
<use href="#tg" x="804.3" y="847.3"/><text x="797.5" y="850.6" class="r">rndHrm</text>
<use href="#nb" x="762.7" y="864"/><text x="761" y="867.3" class="r">range</text><text x="779.3" y="867.3" class="m">1</text>
<use href="#nb" x="762.7" y="880"/><text x="761" y="883.3" class="r">voices</text><text x="779.3" y="883.3" class="m">1</text>
</g>

<g id="n-SiTrSaPu_Osc">
<rect class="pn" x="268" y="561.5" width="124" height="321"/><rect class="tb" x="268" y="561.5" width="124" height="11.5"/>
<text x="270" y="570.5" class="tri">▼</text><text x="277" y="570.5" class="t">sss/osc/SiTrSaPu_Osc</text>
<text x="269.5" y="583.3">SiTrSaPu_Osc_1</text>
<use href="#pb" x="274" y="592.7"/><text x="293.3" y="596">pitch</text><use href="#or" x="385" y="592.7"/>
<use href="#pb" x="274" y="606.7"/><text x="284.3" y="610.5" class="m s">±</text><text x="293.3" y="610">FMW</text>
<use href="#pr" x="274" y="620.7"/><text x="293.3" y="624">freq</text>
<use href="#pr" x="274" y="634.7"/><text x="293.3" y="638">phase</text>
<use href="#pb" x="274" y="648.7"/><text x="284.3" y="652.5" class="m s">+</text><text x="293.3" y="652">slope</text>
<use href="#pb" x="274" y="662.7"/><text x="284.3" y="666.5" class="m s">+</text><text x="293.3" y="666">shift</text>
<use href="#pb" x="274" y="676.7"/><text x="284.3" y="680.5" class="m s">+</text><text x="293.3" y="680">saturate</text>
<use href="#k" x="359.3" y="696.3"/><text x="299" y="699.6">pitch</text><text x="299" y="710.3">329,6 Hz</text>
<use href="#k" x="359.3" y="732.3"/><text x="347" y="741.3" class="r">FM</text>
<use href="#kd" x="359.3" y="768"/><text x="347" y="777" class="r">slope</text>
<use href="#kd" x="359.3" y="804"/><text x="347" y="813" class="r">shift</text>
<use href="#cb" x="384.8" y="835"/><text x="378" y="838.3" class="r">sine</text>
<use href="#kd" x="359.3" y="854"/><text x="347" y="863" class="r">saturate</text>
</g>

<g id="n-supertrisaw">
<rect class="pn" x="155.5" y="619" width="111" height="263.5"/><rect class="tb" x="155.5" y="619" width="111" height="11.5"/>
<text x="157.5" y="628" class="tri">▼</text><text x="164.5" y="628" class="t">sss/osc/supertrisaw</text>
<text x="157" y="639.3">supertrisaw_1</text>
<use href="#pb" x="161.7" y="649"/><text x="181.7" y="652.3">pitch</text><use href="#or" x="259.3" y="649"/>
<use href="#pb" x="161.7" y="663"/><text x="172.3" y="666.8" class="m s">±</text><text x="181.7" y="666.3">FMW</text>
<use href="#pr" x="161.7" y="677"/><text x="181.7" y="680.3">freq</text>
<use href="#pr" x="161.7" y="691"/><text x="181.7" y="694.3">phase</text>
<use href="#pb" x="161.7" y="705"/><text x="172.3" y="708.8" class="m s">+</text><text x="181.7" y="708.3">slope</text>
<use href="#k" x="233.3" y="724.7"/><text x="172.7" y="728">pitch</text><text x="172.7" y="738.7">329,6 Hz</text>
<use href="#k" x="233.3" y="760.3"/><text x="221" y="769.3" class="r">FM</text>
<use href="#kd" x="233.3" y="796.3"/><text x="221" y="805.3" class="r">slope</text>
<use href="#nb" x="216.7" y="827.7"/><text x="215" y="831" class="r">voices</text><text x="233.3" y="831" class="m">1</text>
<use href="#k" x="233.3" y="848.7"/><text x="221" y="857.7" class="r">detune</text>
</g>

<g id="n-shapingOsc">
<rect class="pn" x="15.5" y="731" width="138.5" height="151"/><rect class="tb" x="15.5" y="731" width="138.5" height="11.5"/>
<text x="17.5" y="740" class="tri">▼</text><text x="24.5" y="740" class="t">sss/osc/shapingOsc</text>
<text x="17" y="751">shapingOsc_1</text>
<use href="#pb" x="20.7" y="761"/><text x="41.7" y="764.3">Pitch</text><text x="128.5" y="764.3" class="r">wave</text><use href="#or" x="147.7" y="761"/>
<use href="#pb" x="20.7" y="775"/><text x="41.7" y="778.3">Phase</text><text x="128.5" y="778.3" class="r">sined</text><use href="#or" x="147.7" y="775"/>
<use href="#pb" x="20.7" y="789"/><text x="41.7" y="792.3">reset</text>
<use href="#pg" x="20.7" y="803"/><text x="41.7" y="806.3">waveform</text>
<use href="#py" x="20.7" y="817"/><text x="41.7" y="820.3">Bipolar</text>
<use href="#pb" x="20.7" y="831"/><text x="32.3" y="834.8" class="m s">±</text><text x="41.7" y="834.3">Bezier1</text>
<use href="#pb" x="20.7" y="845"/><text x="32.3" y="848.8" class="m s">±</text><text x="41.7" y="848.3">Bezier2</text>
<use href="#pg" x="20.7" y="859"/><text x="41.7" y="862.3">curve</text>
<use href="#pb" x="20.7" y="873"/><text x="32.3" y="876.8" class="m s">±</text><text x="41.7" y="876.3">sinedPhase</text>
</g>

<g id="n-pllSine">
<rect class="pn" x="1275" y="632.5" width="97" height="236"/><rect class="tb" x="1275" y="632.5" width="97" height="11.5"/>
<text x="1277" y="641.5" class="tri">▼</text><text x="1284" y="641.5" class="t">sss/osc/pllSine</text>
<text x="1276.5" y="653.3">pllSine_1</text>
<use href="#pb" x="1281.3" y="662.7"/><text x="1292.3" y="666.5" class="m s">±</text><text x="1301.3" y="666">pitch</text><text x="1355.3" y="666.5" class="m s">±</text><use href="#or" x="1365.7" y="662.7"/>
<use href="#pr" x="1281.3" y="676.7"/><text x="1301.3" y="680">freq</text>
<use href="#pr" x="1281.3" y="690.7"/><text x="1301.3" y="694">PLLphase</text>
<use href="#k" x="1339.7" y="710.3"/><text x="1278.7" y="719">329,6 Hz</text>
<use href="#k" x="1339.7" y="746.3"/><text x="1327.5" y="755.3" class="r">power</text>
<use href="#cb" x="1364.7" y="776"/><text x="1358" y="779.3" class="r">mode</text>
<use href="#k" x="1339.7" y="796.3"/><text x="1327.5" y="805.3" class="r">overtones</text>
<use href="#k" x="1339.7" y="832.3"/><text x="1327.5" y="841.3" class="r">FM</text>
</g>

<g id="n-pllOSC">
<rect class="pn" x="1373.5" y="590" width="97" height="278.5"/><rect class="tb" x="1373.5" y="590" width="97" height="11.5"/>
<text x="1375.5" y="599" class="tri">▼</text><text x="1382.5" y="599" class="t">sss/osc/pllOSC</text>
<text x="1375" y="611">pllOSC_1</text>
<use href="#pb" x="1379.7" y="620.7"/><text x="1390.7" y="624.5" class="m s">±</text><text x="1399.7" y="624">pitch</text><text x="1452" y="624.5" class="m s">±</text><use href="#or" x="1463" y="620.7"/>
<use href="#pr" x="1379.7" y="634.7"/><text x="1399.7" y="638">MOD</text>
<use href="#pb" x="1379.7" y="648.7"/><text x="1399.7" y="652">FM</text>
<use href="#pb" x="1379.7" y="662.7"/><text x="1399.7" y="666">PM</text>
<use href="#pb" x="1379.7" y="676.7"/><text x="1399.7" y="680">PLL</text>
<use href="#k" x="1437.3" y="696.5"/><text x="1377" y="705">329,6 Hz</text>
<use href="#k" x="1437.3" y="732.3"/><text x="1377" y="735.6">LP</text><text x="1377" y="746.3">329,6 Hz</text>
<use href="#k" x="1437.3" y="768.3"/><text x="1425" y="777.3" class="r">FM</text>
<use href="#k" x="1437.3" y="804.3"/><text x="1425" y="813.3" class="r">PM</text>
<use href="#kd" x="1437.3" y="840.3"/><text x="1425" y="849.3" class="r">PLL</text>
</g>

<g id="comments">
<rect class="cm" x="267.7" y="281" width="83" height="14"/><text x="273.3" y="291.3">FM oscillators</text>
<rect class="cm" x="267.7" y="295" width="55" height="13.5"/><text x="273.3" y="305">sine oscs</text>
<rect class="cm" x="267.7" y="308.7" width="96.6" height="14"/><text x="273.3" y="319">internally modded</text>
<rect class="cm" x="267.7" y="322.7" width="96.6" height="13.6"/><text x="273.3" y="332.8">1-sample feedback</text>
<rect class="cm" x="701.7" y="421" width="83.3" height="14"/><text x="707" y="431.3">table oscillators</text>
<rect class="cm" x="575.3" y="491" width="111.4" height="13.5"/><text x="581.7" y="501">morphing/controllable</text>
<rect class="cm" x="575.3" y="505" width="97.4" height="14"/><text x="581.7" y="515.3">spectral oscillators</text>
<rect class="cm" x="43.3" y="674" width="69" height="13"/><text x="49.3" y="683.8">shape-morph</text>
<rect class="cm" x="43.3" y="687.3" width="97.4" height="13.4"/><text x="49.3" y="697.5">1 core oscillators</text>
<rect class="cm" x="1079" y="701" width="84" height="14"/><text x="1085.3" y="711.3">sync oscillators</text>
<rect class="cm" x="1373" y="336.7" width="84" height="14.3"/><text x="1379.7" y="347">poly oscillators</text>
<rect class="cm" x="1331" y="561" width="69.7" height="14"/><text x="1337.3" y="571.3">pll oscillators</text>
</g>
</svg>
